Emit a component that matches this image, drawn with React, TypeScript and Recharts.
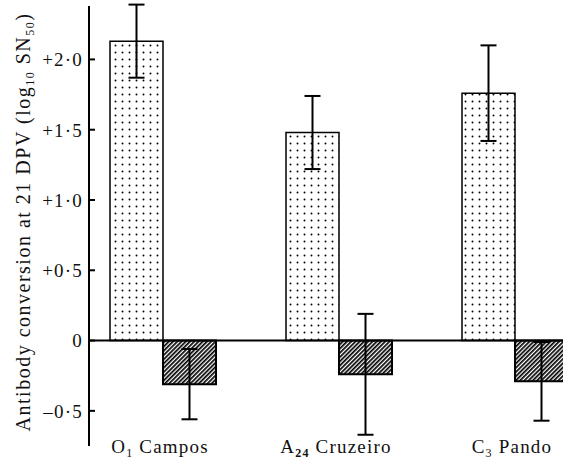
import React from "react";
import { BarChart, Bar, XAxis, YAxis, ErrorBar, ReferenceLine } from "recharts";

// strains, split so the subscript can be drawn
const strainLetter = ["O", "A", "C"];
const strainSub = ["1", "24", "3"];
const strainName = ["Campos", "Cruzeiro", "Pando"];

// antibody conversion (log10 SN50)
const dottedValues = [2.13, 1.48, 1.76];
const dottedErrors = [0.26, 0.26, 0.34];
const hatchedValues = [-0.31, -0.24, -0.29];
const hatchedErrors = [0.25, 0.43, 0.28];

const yTicks = [-0.5, 0, 0.5, 1.0, 1.5, 2.0];

const data = strainName.map((name, i) => ({
    strain: `${strainLetter[i]}${strainSub[i]} ${name}`,
    dotted: dottedValues[i],
    dottedErr: dottedErrors[i],
    hatched: hatchedValues[i],
    hatchedErr: hatchedErrors[i],
}));

const FONT = '"Liberation Serif", "Times New Roman", serif';
const INK = "#111";

const formatTick = (v: number) => {
    if (v === 0) return "0";
    const s = Math.abs(v).toFixed(1).replace(".", "\u00b7");
    return (v > 0 ? "+" : "\u2013") + s;
};

const YTick = (props: any) => {
    const {x, y, payload} = props;
    return (
        <text x={x} y={y} dy={6.8} textAnchor="end" fontFamily={FONT}
              fontSize={19} letterSpacing={1.2} fill={INK}>
            {formatTick(payload.value)}
        </text>
    );
};

const StrainTick = (props: any) => {
    const {x, y, payload} = props;
    const i = props.index ?? payload.index;
    return (
        <text x={x - 3} y={y + 7} textAnchor="middle" fontFamily={FONT}
              fontSize={19} letterSpacing={1.2} fill={INK}>
            <tspan>{strainLetter[i]}</tspan>
            <tspan dy={4} fontSize={12} fontWeight={i === 1 ? "bold" : "normal"}>{strainSub[i]}</tspan>
            <tspan dy={-4}>{"\u00a0" + strainName[i]}</tspan>
        </text>
    );
};

const YLabel = (props: any) => {
    const vb = props.viewBox || {x: 0, y: 0, width: 89, height: 440};
    const cx = vb.x + 30;
    const cy = vb.y + vb.height / 2 - 4;
    return (
        <text x={cx} y={cy} transform={`rotate(-90 ${cx} ${cy})`} textAnchor="middle"
              fontFamily={FONT} fontSize={20} letterSpacing={1.5} fill={INK}>
            Antibody conversion at 21 DPV (log
            <tspan dy={4} fontSize={12}>10</tspan>
            <tspan dy={-4}>{"\u00a0SN"}</tspan>
            <tspan dy={4} fontSize={12}>50</tspan>
            <tspan dy={-4}>)</tspan>
        </text>
    );
};

const App = () => {
    return (
        <div style={{position: "absolute", left: 0, top: 0, width: 563, height: 462, background: "#fff"}}>
            <BarChart width={563} height={462} data={data} barSize={53} barGap={0}
                      margin={{top: 6, right: 0, bottom: 0, left: 0}}>
                <defs>
                    <pattern id="dots" patternUnits="userSpaceOnUse" width={7} height={7}>
                        <rect width={7} height={7} fill="#fff"/>
                        <circle cx={3.5} cy={3.5} r={0.95} fill="#000"/>
                    </pattern>
                    <pattern id="hatch" patternUnits="userSpaceOnUse" width={3} height={3}
                             patternTransform="rotate(45)">
                        <rect width={3} height={3} fill="#fff"/>
                        <rect width={1.7} height={3} fill="#000"/>
                    </pattern>
                </defs>
                <XAxis dataKey="strain" height={16} axisLine={false} tickLine={false}
                       tickSize={0} tickMargin={0} interval={0}
                       padding={{left: -14, right: -40}} tick={<StrainTick/>}/>
                <YAxis width={89} domain={[-0.75, 2.38]} ticks={yTicks} allowDataOverflow
                       interval={0} tickSize={-6} tickMargin={12}
                       axisLine={{stroke: "#000", strokeWidth: 2}}
                       tickLine={{stroke: "#000", strokeWidth: 2}}
                       tick={<YTick/>} label={<YLabel/>}/>
                <Bar dataKey="dotted" fill="url(#dots)" stroke="#000" strokeWidth={1.5}
                     isAnimationActive={false}>
                    <ErrorBar dataKey="dottedErr" width={8} stroke="#000" strokeWidth={2}
                              direction="y" isAnimationActive={false}/>
                </Bar>
                <Bar dataKey="hatched" fill="url(#hatch)" stroke="#000" strokeWidth={2}
                     isAnimationActive={false}>
                    <ErrorBar dataKey="hatchedErr" width={8} stroke="#000" strokeWidth={2}
                              direction="y" isAnimationActive={false}/>
                </Bar>
                <ReferenceLine y={0} stroke="#000" strokeWidth={2}/>
            </BarChart>
        </div>
    );
};

export default App;
